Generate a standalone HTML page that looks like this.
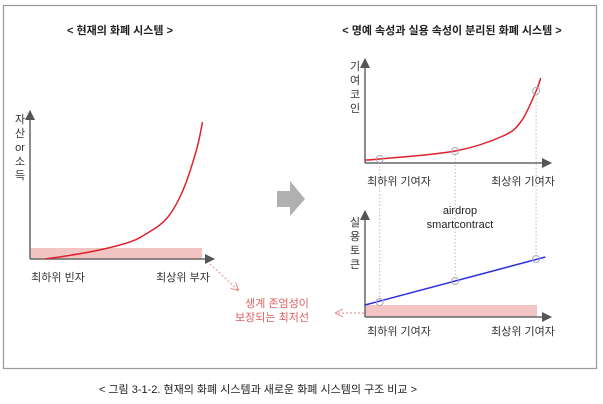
<!DOCTYPE html>
<html><head><meta charset="utf-8"><style>
body{margin:0;background:#fff;width:603px;height:404px;overflow:hidden}
svg{display:block}
text{font-family:"Liberation Sans","Noto Sans CJK KR",sans-serif}
</style></head><body>
<svg id="c" width="603" height="404" viewBox="0 0 603 404">
<defs>
<marker id="ah" markerWidth="10" markerHeight="10" refX="9" refY="5" orient="auto" markerUnits="userSpaceOnUse"><path d="M0,0 L10,5 L0,10 z" fill="#555"/></marker>
<marker id="ar" markerWidth="8" markerHeight="8" refX="7" refY="4" orient="auto" markerUnits="userSpaceOnUse"><path d="M0,0 L8,4 L0,8" fill="none" stroke="#e88" stroke-width="1"/></marker>
</defs>
<rect x="3.5" y="5.5" width="593" height="363" fill="#fff" stroke="#999" stroke-width="1.2"/>
<text x="120" y="34" font-size="11" font-weight="bold" text-anchor="middle" fill="#222">&lt; 현재의 화폐 시스템 &gt;</text>
<text x="452" y="34" font-size="11" font-weight="bold" text-anchor="middle" fill="#222">&lt; 명예 속성과 실용 속성이 분리된 화폐 시스템 &gt;</text>

<!-- left chart -->
<rect x="30" y="248" width="172" height="11" fill="#f2c4c4"/>
<line x1="30" y1="259" x2="30" y2="111" stroke="#666" stroke-width="1.5" marker-end="url(#ah)"/>
<line x1="30" y1="259" x2="214" y2="259" stroke="#666" stroke-width="1.5" marker-end="url(#ah)"/>
<g font-size="11" fill="#333" text-anchor="middle">
<text x="20" y="123">자</text><text x="20" y="137">산</text><text x="20" y="151">or</text><text x="20" y="165">소</text><text x="20" y="179">득</text></g>
<text x="58" y="281" font-size="11" fill="#333" text-anchor="middle">최하위 빈자</text>
<text x="183" y="281" font-size="11" fill="#333" text-anchor="middle">최상위 부자</text>
<path id="leftCurve" fill="none" stroke="#e0202a" stroke-width="1.5"/>
<line x1="210" y1="264" x2="238" y2="290" stroke="#e88" stroke-dasharray="2,2" marker-end="url(#ar)"/>
<text x="277" y="307" font-size="11" fill="#e06060" text-anchor="middle">생계 존엄성이</text>
<text x="272" y="321" font-size="11" fill="#e06060" text-anchor="middle">보장되는 최저선</text>
<line x1="364" y1="313" x2="336" y2="313" stroke="#e88" stroke-dasharray="2,2" marker-end="url(#ar)"/>
<path d="M277,191 L290,191 L290,181 L305,199 L290,216 L290,207 L277,207 z" fill="#b0b0b0"/>

<!-- right top -->
<g id="guides"></g>
<line x1="365" y1="163" x2="365" y2="59" stroke="#666" stroke-width="1.5" marker-end="url(#ah)"/>
<line x1="365" y1="163" x2="551" y2="163" stroke="#666" stroke-width="1.5" marker-end="url(#ah)"/>
<g font-size="11" fill="#333" text-anchor="middle">
<text x="355" y="70">기</text><text x="355" y="84">여</text><text x="355" y="98">코</text><text x="355" y="112">인</text></g>
<text x="399" y="185" font-size="11" fill="#333" text-anchor="middle">최하위 기여자</text>
<text x="523" y="185" font-size="11" fill="#333" text-anchor="middle">최상위 기여자</text>
<path id="topCurve" fill="none" stroke="#e0202a" stroke-width="1.5"/>
<text x="460" y="214" font-size="11" fill="#222" text-anchor="middle">airdrop</text>
<text x="460" y="228" font-size="11" fill="#222" text-anchor="middle">smartcontract</text>

<!-- right bottom -->
<rect x="365" y="305" width="172" height="12" fill="#f2c4c4"/>
<line x1="365" y1="317" x2="365" y2="211" stroke="#666" stroke-width="1.5" marker-end="url(#ah)"/>
<line x1="365" y1="317" x2="551" y2="317" stroke="#666" stroke-width="1.5" marker-end="url(#ah)"/>
<g font-size="11" fill="#333" text-anchor="middle">
<text x="355" y="226">실</text><text x="355" y="240">용</text><text x="355" y="254">토</text><text x="355" y="268">큰</text></g>
<text x="399" y="335" font-size="11" fill="#333" text-anchor="middle">최하위 기여자</text>
<text x="523" y="335" font-size="11" fill="#333" text-anchor="middle">최상위 기여자</text>
<line id="blueLine" stroke="#3030e0" stroke-width="1.5"/>
<g id="marks"></g>

<text x="258" y="393" font-size="11" fill="#222" text-anchor="middle">&lt; 그림 3-1-2. 현재의 화폐 시스템과 새로운 화폐 시스템의 구조 비교 &gt;</text>
</svg>
<script>
// left curve: x position (0..1 of rank) and wealth value (0..100)
const leftRanks=[0.08,0.3,0.5,0.6,0.7,0.78,0.85,0.88];
const leftWealth=[0,5,12,19,30,50,80,100];
// top chart: contribution coin values at ranks
const topRanks=[0,0.08,0.49,0.75,0.85,0.93,0.955];
const topCoin=[3,4,12,27,42,72,85];
const markerRanks=[0.08,0.49,0.93];
const markerCoin=[4,12,72];
const tokenStart=12, tokenEnd=60;
const markerToken=[15,36,58];

const NS="http://www.w3.org/2000/svg";
const lx=r=>30+r*196, ly=v=>259-v*1.37;
const tx=r=>365+r*184, ty=v=>163-v*1.0;
const by=v=>317-v*1.0;
function smooth(pts){let d="M"+pts[0][0]+","+pts[0][1];for(let i=1;i<pts.length;i++){const p0=pts[i-2]||pts[i-1],p1=pts[i-1],p2=pts[i],p3=pts[i+1]||p2;d+=` C${p1[0]+(p2[0]-p0[0])/6},${p1[1]+(p2[1]-p0[1])/6} ${p2[0]-(p3[0]-p1[0])/6},${p2[1]-(p3[1]-p1[1])/6} ${p2[0]},${p2[1]}`;}return d;}
document.getElementById('leftCurve').setAttribute('d',smooth(leftRanks.map((r,i)=>[lx(r),ly(leftWealth[i])])));
document.getElementById('topCurve').setAttribute('d',smooth(topRanks.map((r,i)=>[tx(r),ty(topCoin[i])])));
const bl=document.getElementById('blueLine');
bl.setAttribute('x1',tx(0));bl.setAttribute('y1',by(tokenStart));
bl.setAttribute('x2',tx(0.98));bl.setAttribute('y2',by(tokenEnd));
const g=document.getElementById('guides'),m=document.getElementById('marks');
markerRanks.forEach((r,i)=>{
 const x=tx(r);
 const l=document.createElementNS(NS,'line');
 l.setAttribute('x1',x);l.setAttribute('x2',x);l.setAttribute('y1',ty(markerCoin[i]));l.setAttribute('y2',by(markerToken[i]));
 l.setAttribute('stroke','#bbb');l.setAttribute('stroke-dasharray','1.5,2');
 
 
 g.appendChild(l);
 [[ty(markerCoin[i]),'coin-marker'],[by(markerToken[i]),'token-marker']].forEach(([y,n])=>{
  const c=document.createElementNS(NS,'circle');
  c.setAttribute('cx',x);c.setAttribute('cy',y);c.setAttribute('r',3.5);
  c.setAttribute('fill','none');c.setAttribute('stroke','#aab');
  
  
  m.appendChild(c);
 });
});
</script>
</body></html>
